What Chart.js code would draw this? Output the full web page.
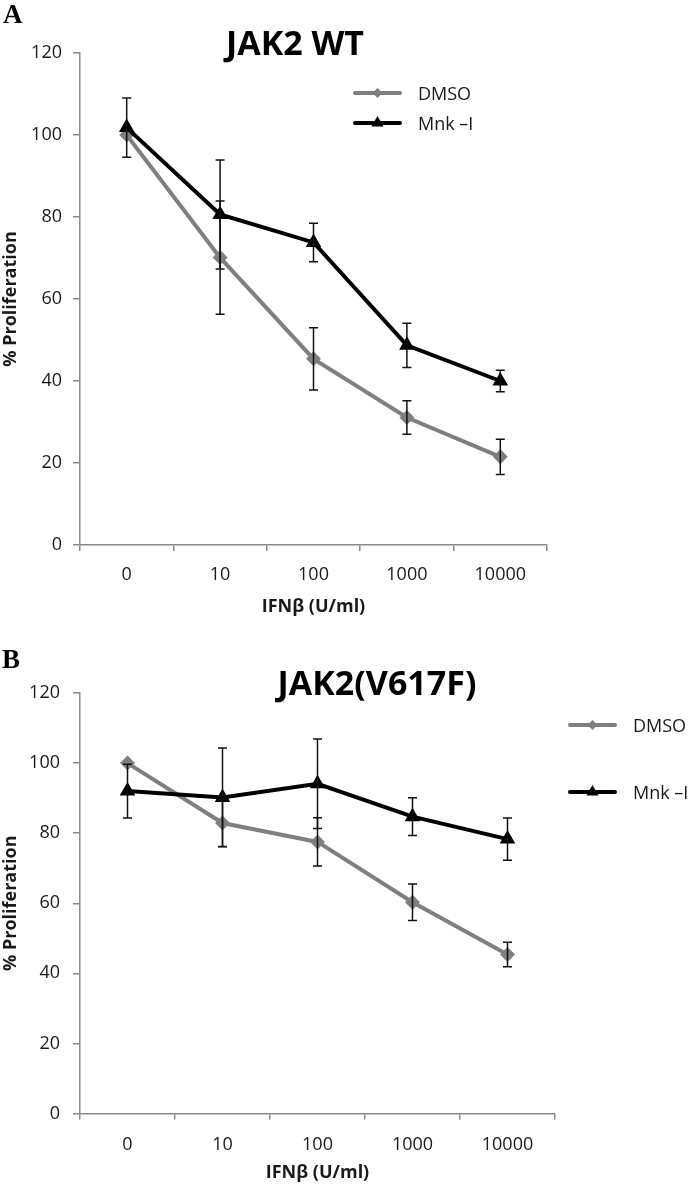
<!DOCTYPE html>
<html>
<head>
<meta charset="utf-8">
<title>JAK2 proliferation</title>
<script src="https://cdn.jsdelivr.net/npm/chart.js@4.4.0/dist/chart.umd.min.js"></script>
<style>
    html, body { margin: 0; padding: 0; background: #fff; }
    body { width: 693px; height: 1185px; position: relative; overflow: hidden; }
    .panel { position: absolute; left: 0; width: 693px; }
</style>
</head>
<body>
<div class="panel" style="top:0;height:625px"><canvas id="chartA" width="693" height="625"></canvas></div>
<div class="panel" style="top:625px;height:560px"><canvas id="chartB" width="693" height="560"></canvas></div>

<script>
/* =====================================================
   DATA
===================================================== */

const doseLabels = ["0", "10", "100", "1000", "10000"];
const yTicks = [0, 20, 40, 60, 80, 100, 120];
const seriesNames = ["DMSO", "Mnk \u2013I"];

// panel A : JAK2 WT
const wtDmso = [100, 70.1, 45.4, 31.1, 21.5];
const wtDmsoErr = [0, 13.8, 7.6, 4.1, 4.3];
const wtMnk = [101.8, 80.6, 73.8, 48.7, 40.0];
const wtMnkErr = [7.2, 13.3, 4.7, 5.4, 2.6];

// panel B : JAK2(V617F)
const vfDmso = [100, 82.9, 77.5, 60.3, 45.4];
const vfDmsoErr = [0, 6.7, 6.9, 5.2, 3.5];
const vfMnk = [92.0, 90.2, 94.1, 84.7, 78.3];
const vfMnkErr = [7.7, 14.1, 12.8, 5.4, 6.0];

/* =====================================================
   STYLE
===================================================== */

const FONT = "'Open Sans', 'DejaVu Sans', sans-serif";
const AXIS_GRAY = "#8a8a8a";
const DMSO_GRAY = "#7f7f7f";
const TEXT = "#1a1a1a";

/* =====================================================
   PLUGIN: error bars, panel letter, title, legend
===================================================== */

const panelDecor = {
    id: "panelDecor",

    afterDatasetsDraw(chart) {
        const ctx = chart.ctx;
        const xs = chart.scales.x;
        const ys = chart.scales.y;
        const cap = 4.5;

        ctx.save();
        ctx.strokeStyle = "#111";
        ctx.lineWidth = 1.5;
        chart.data.datasets.forEach(ds => {
            ds.errors.forEach((e, i) => {
                if (!e) return;
                const px = xs.getPixelForValue(i);
                const top = ys.getPixelForValue(ds.data[i] + e);
                const bot = ys.getPixelForValue(ds.data[i] - e);
                ctx.beginPath();
                ctx.moveTo(px, top); ctx.lineTo(px, bot);
                ctx.moveTo(px - cap, top); ctx.lineTo(px + cap, top);
                ctx.moveTo(px - cap, bot); ctx.lineTo(px + cap, bot);
                ctx.stroke();
            });
        });
        ctx.restore();
    },

    afterDraw(chart, args, opts) {
        const ctx = chart.ctx;
        ctx.save();

        // panel letter
        ctx.fillStyle = "#000";
        ctx.font = "bold 27px 'Liberation Serif', serif";
        ctx.textAlign = "left";
        ctx.textBaseline = "middle";
        ctx.fillText(opts.letter, opts.letterX, opts.letterY);

        // title
        ctx.font = "bold 34px " + FONT;
        ctx.textAlign = "center";
        ctx.fillText(opts.title, opts.titleX, opts.titleY);

        // legend
        chart.data.datasets.forEach((ds, i) => {
            const y = opts.legendY[i];
            const x0 = opts.legendX;
            const x1 = x0 + 45;
            ctx.strokeStyle = ds.borderColor;
            ctx.lineWidth = ds.borderWidth;
            ctx.lineCap = "round";
            ctx.beginPath();
            ctx.moveTo(x0, y);
            ctx.lineTo(x1, y);
            ctx.stroke();
            drawMarker(ctx, ds.pointStyle, (x0 + x1) / 2, y, ds.pointStyle === "triangle" ? 7 : 5, ds.borderColor);

            ctx.fillStyle = TEXT;
            ctx.font = "18px " + FONT;
            ctx.textAlign = "left";
            ctx.textBaseline = "middle";
            ctx.fillText(ds.label, x1 + 18, y + 2);
        });

        ctx.restore();
    }
};

function drawMarker(ctx, style, x, y, r, color) {
    ctx.fillStyle = color;
    ctx.beginPath();
    if (style === "triangle") {
        ctx.moveTo(x, y - r);
        ctx.lineTo(x + r * 0.866, y + r * 0.5);
        ctx.lineTo(x - r * 0.866, y + r * 0.5);
    } else {
        ctx.moveTo(x - r, y);
        ctx.lineTo(x, y - r);
        ctx.lineTo(x + r, y);
        ctx.lineTo(x, y + r);
    }
    ctx.closePath();
    ctx.fill();
}

/* =====================================================
   CHART BUILDER
===================================================== */

function buildPanel(canvasId, dmso, dmsoErr, mnk, mnkErr, layout) {

    const ctx = document.getElementById(canvasId).getContext("2d");

    return new Chart(ctx, {
        type: "line",
        data: {
            labels: doseLabels,
            datasets: [
                {
                    label: seriesNames[0],
                    data: dmso,
                    errors: dmsoErr,
                    borderColor: DMSO_GRAY,
                    backgroundColor: DMSO_GRAY,
                    borderWidth: 4,
                    pointStyle: "rectRot",
                    pointRadius: 7.5,
                    pointBorderWidth: 0,
                    tension: 0,
                    order: 2
                },
                {
                    label: seriesNames[1],
                    data: mnk,
                    errors: mnkErr,
                    borderColor: "#000",
                    backgroundColor: "#000",
                    borderWidth: 4,
                    pointStyle: "triangle",
                    pointRadius: 9,
                    pointBorderWidth: 0,
                    tension: 0,
                    order: 1
                }
            ]
        },
        options: {
            responsive: false,
            animation: false,
            layout: {
                padding: { top: layout.top, right: layout.right, left: 0, bottom: 0 }
            },
            plugins: {
                legend: { display: false },
                title: { display: false },
                tooltip: { enabled: false },
                panelDecor: layout.decor
            },
            scales: {
                x: {
                    type: "category",
                    offset: true,
                    afterFit: scale => { scale.height = layout.xHeight; },
                    grid: {
                        offset: true,
                        drawOnChartArea: false,
                        drawTicks: true,
                        tickLength: 6,
                        color: AXIS_GRAY,
                        lineWidth: 1.5
                    },
                    border: { display: true, color: AXIS_GRAY, width: 1.5 },
                    ticks: {
                        color: TEXT,
                        font: { family: FONT, size: 18 },
                        padding: layout.xTickPad,
                        maxRotation: 0
                    },
                    title: {
                        display: true,
                        text: "IFN\u03B2 (U/ml)",
                        color: TEXT,
                        font: { family: FONT, size: 18, weight: "bold" },
                        padding: { top: 0, bottom: layout.xTitlePad }
                    }
                },
                y: {
                    min: 0,
                    max: 120,
                    afterFit: scale => { scale.width = 80; },
                    afterBuildTicks: scale => {
                        scale.ticks = yTicks.map(v => ({ value: v }));
                    },
                    grid: {
                        drawOnChartArea: false,
                        drawTicks: true,
                        tickLength: 7,
                        color: AXIS_GRAY,
                        lineWidth: 1.5
                    },
                    border: { display: true, color: AXIS_GRAY, width: 1.5 },
                    ticks: {
                        color: TEXT,
                        font: { family: FONT, size: 18 },
                        padding: layout.yTickPad
                    },
                    title: {
                        display: true,
                        text: "% Proliferation",
                        color: TEXT,
                        font: { family: FONT, size: 18, weight: "bold" },
                        padding: 0
                    }
                }
            }
        },
        plugins: [panelDecor]
    });
}

/* =====================================================
   RENDER
===================================================== */

buildPanel("chartA", wtDmso, wtDmsoErr, wtMnk, wtMnkErr, {
    top: 53, right: 146, xHeight: 80, xTickPad: 13, xTitlePad: 7, yTickPad: 11,
    decor: {
        letter: "A", letterX: 3, letterY: 16,
        title: "JAK2 WT", titleX: 295, titleY: 45,
        legendX: 355, legendY: [93, 123]
    }
});

buildPanel("chartB", vfDmso, vfDmsoErr, vfMnk, vfMnkErr, {
    top: 68, right: 138, xHeight: 71.5, xTickPad: 15, xTitlePad: 1, yTickPad: 13,
    decor: {
        letter: "B", letterX: 2, letterY: 36,
        title: "JAK2(V617F)", titleX: 377, titleY: 60,
        legendX: 570, legendY: [100, 167]
    }
});
</script>
</body>
</html>
